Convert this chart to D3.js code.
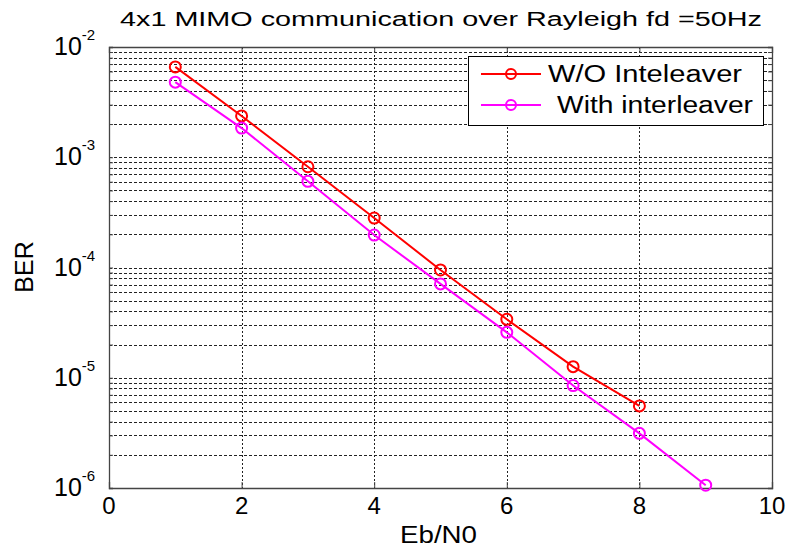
<!DOCTYPE html>
<html>
<head>
<meta charset="utf-8">
<script src="https://cdn.jsdelivr.net/npm/d3@7"></script>
<style>
  body { margin: 0; background: #fff; }
  svg { display: block; font-family: "Liberation Sans", Arial, sans-serif; }
</style>
</head>
<body>
<svg id="chart" width="791" height="550"></svg>
<script>
// Eb/N0 points (dB)
const ebn0 = [1, 2, 3, 4, 5, 6, 7, 8, 9];
// BER without interleaver
const berNoInterleaver = [6.6e-3, 2.37e-3, 8.2e-4, 2.81e-4, 9.5e-5, 3.39e-5, 1.26e-5, 5.55e-6];
// BER with interleaver
const berInterleaver = [4.8e-3, 1.84e-3, 6.05e-4, 1.97e-4, 7.1e-5, 2.58e-5, 8.5e-6, 3.13e-6, 1.06e-6];
const xTicks = [0, 2, 4, 6, 8, 10];
const yDecades = [-6, -5, -4, -3, -2];
const seriesNames = ["W/O Inteleaver", "With interleaver"];
const seriesColors = ["#ff0000", "#ff00ff"];

const svg = d3.select("#chart");
const m = { left: 109, right: 772, top: 47, bottom: 488 };

const x = d3.scaleLinear().domain([0, 10]).range([m.left, m.right]);
const y = d3.scaleLog().domain([1e-6, 1e-2]).range([m.bottom, m.top]);

// grid
const grid = svg.append("g");
const minorVals = [];
for (let e = -6; e < -2; e++) for (let k = 1; k <= 9; k++) minorVals.push(k * Math.pow(10, e));
minorVals.push(1e-2);
grid.selectAll("line.h").data(minorVals.filter(v => v > 1e-6 && v < 1e-2)).join("line")
  .attr("x1", m.left).attr("x2", m.right)
  .attr("y1", d => Math.round(y(d)) + 0.5).attr("y2", d => Math.round(y(d)) + 0.5)
  .attr("stroke", "#222").attr("stroke-width", 1).attr("stroke-dasharray", "3,2");
grid.selectAll("line.v").data(xTicks.filter(t => t > 0 && t < 10)).join("line")
  .attr("x1", d => Math.round(x(d)) + 0.5).attr("x2", d => Math.round(x(d)) + 0.5)
  .attr("y1", m.top).attr("y2", m.bottom)
  .attr("stroke", "#222").attr("stroke-width", 1).attr("stroke-dasharray", "2,2");

// axes (ticks pointing inward, mirrored on top/right)
const xAxisB = d3.axisBottom(x).tickValues(xTicks).tickSize(-6).tickFormat("");
const xAxisT = d3.axisTop(x).tickValues(xTicks).tickSize(-6).tickFormat("");
const yAxisL = d3.axisLeft(y).tickValues(minorVals).tickSize(-4).tickFormat("");
const yAxisR = d3.axisRight(y).tickValues(minorVals).tickSize(-4).tickFormat("");
function styleAxis(g) {
  g.selectAll("path").attr("stroke", "#444").attr("stroke-width", 1.3);
  g.selectAll("line").attr("stroke", "#444");
}
svg.append("g").attr("transform", `translate(0,${m.bottom})`).call(xAxisB).call(styleAxis);
svg.append("g").attr("transform", `translate(0,${m.top})`).call(xAxisT).call(styleAxis);
svg.append("g").attr("transform", `translate(${m.left},0)`).call(yAxisL).call(styleAxis);
svg.append("g").attr("transform", `translate(${m.right},0)`).call(yAxisR).call(styleAxis);

// tick labels
svg.append("g").selectAll("text").data(xTicks).join("text")
  .attr("x", d => x(d)).attr("y", m.bottom + 26)
  .attr("text-anchor", "middle").attr("font-size", 24).attr("fill", "#000")
  .text(d => d);
const yl = svg.append("g").selectAll("text").data(yDecades).join("text")
  .attr("x", 54).attr("y", d => y(Math.pow(10, d)) + 8)
  .attr("font-size", 25).attr("fill", "#000");
yl.append("tspan").text("10");
yl.append("tspan").attr("dy", -15).attr("font-size", 15).text(d => d);

// axis titles
svg.append("text").attr("x", 400).attr("y", 543)
  .attr("font-size", 23).attr("textLength", 77).attr("lengthAdjust", "spacingAndGlyphs")
  .text("Eb/N0");
svg.append("text").attr("transform", `translate(33,267) rotate(-90)`)
  .attr("text-anchor", "middle").attr("font-size", 25).text("BER");
svg.append("text").attr("x", 120).attr("y", 26)
  .attr("font-size", 20).attr("textLength", 642).attr("lengthAdjust", "spacingAndGlyphs")
  .text("4x1 MIMO communication over Rayleigh fd =50Hz");

// series
const series = [berNoInterleaver, berInterleaver];
const line = d3.line().x((d, i) => x(ebn0[i])).y(d => y(d));
series.forEach((s, k) => {
  svg.append("path").datum(s).attr("d", line)
    .attr("fill", "none").attr("stroke", seriesColors[k]).attr("stroke-width", 2);
  svg.append("g").selectAll("circle").data(s).join("circle")
    .attr("cx", (d, i) => x(ebn0[i])).attr("cy", d => y(d)).attr("r", 5.5)
    .attr("fill", "none").attr("stroke", seriesColors[k]).attr("stroke-width", 2);
});

// legend
const lg = svg.append("g");
lg.append("rect").attr("x", 468.5).attr("y", 56.5).attr("width", 295).attr("height", 69)
  .attr("fill", "#fff").attr("stroke", "#000").attr("stroke-width", 1);
const legendTextX = [548, 557];
const legendTextLen = [194, 196];
seriesNames.forEach((name, k) => {
  const ly = 74 + k * 31;
  lg.append("line").attr("x1", 481).attr("x2", 541).attr("y1", ly).attr("y2", ly)
    .attr("stroke", seriesColors[k]).attr("stroke-width", 2);
  lg.append("circle").attr("cx", 511).attr("cy", ly).attr("r", 5)
    .attr("fill", "none").attr("stroke", seriesColors[k]).attr("stroke-width", 2);
  lg.append("text").attr("x", legendTextX[k]).attr("y", ly + 8).attr("font-size", 23)
    .attr("textLength", legendTextLen[k]).attr("lengthAdjust", "spacingAndGlyphs")
    .text(name);
});
</script>
</body>
</html>
